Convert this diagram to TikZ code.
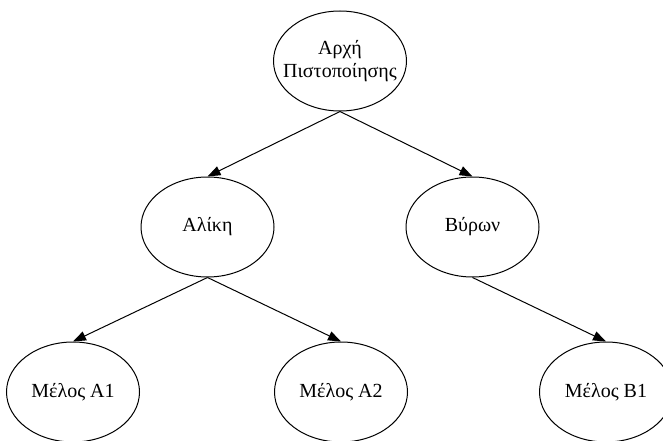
\documentclass[tikz,border=0pt]{standalone}
\usepackage{fontspec}
\setmainfont{Liberation Serif}
\usetikzlibrary{shapes.geometric,arrows.meta}
\begin{document}
\begin{tikzpicture}[x=1pt,y=-1pt,
  member/.style={ellipse,draw,line width=1pt,minimum width=133pt,minimum height=100pt,
    inner sep=0pt,font=\fontsize{20}{23}\selectfont,align=center},
  link/.style={line width=1pt,-{Triangle[length=13pt,width=9.5pt]}}]
\useasboundingbox (0,0) rectangle (663,441);
\clip (0,0) rectangle (663,441);
% certificate authority at the root (negative xsep keeps the ellipse at its fixed size)
\node[member,inner xsep=-15pt] (ca) at (340,61) {Αρχή\\Πιστοποίησης};
% intermediate holders
\node[member] (alice) at (207.5,227) {Αλίκη};
\node[member] (byron) at (472.5,227) {Βύρων};
% leaf members
\node[member] (a1) at (73,392) {Μέλος Α1};
\node[member] (a2) at (341,392) {Μέλος Α2};
\node[member] (b1) at (606,392) {Μέλος Β1};
% trust links
\draw[link] (ca.south) -- (alice.north);
\draw[link] (ca.south) -- (byron.north);
\draw[link] (alice.south) -- (a1.north);
\draw[link] (alice.south) -- (a2.north);
\draw[link] (byron.south) -- (b1.north);
\end{tikzpicture}
\end{document}
